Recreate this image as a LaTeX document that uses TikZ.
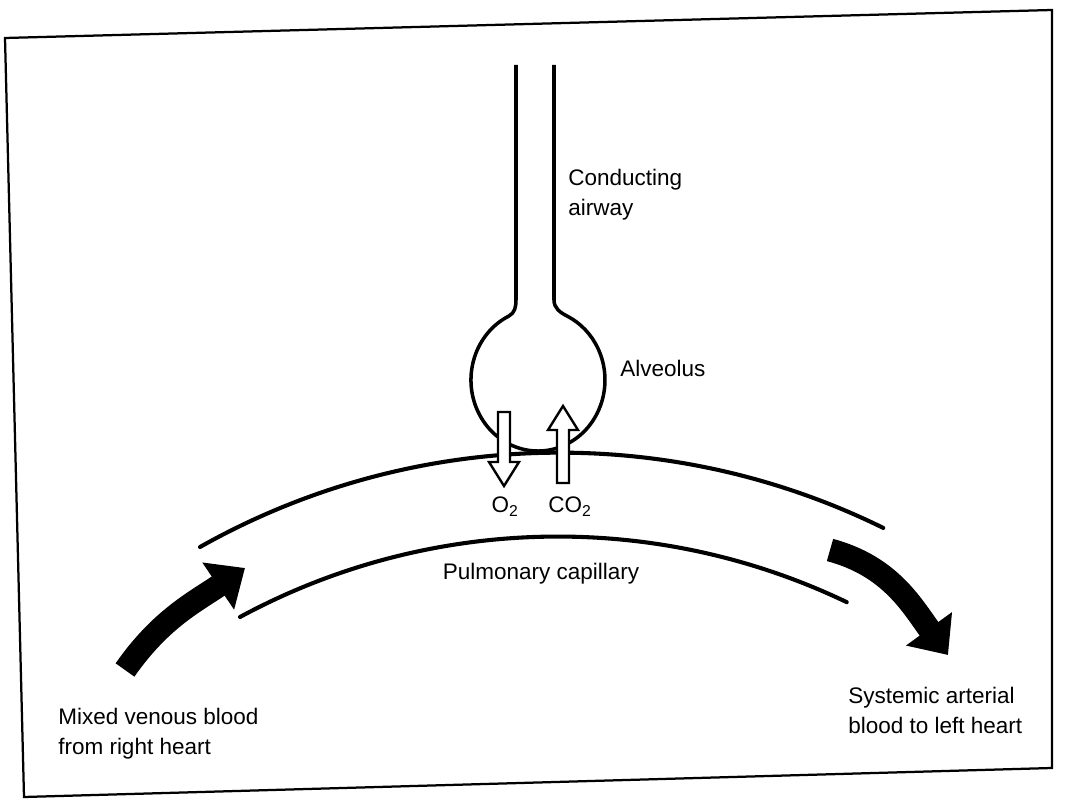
\documentclass[tikz,border=0pt]{standalone}
\usepackage{fontspec}
\setmainfont{Liberation Sans}
\usetikzlibrary{arrows.meta}
\tikzset{
  frm/.style={line width=1.6pt},
  tube/.style={line width=2.5pt},
  wall/.style={line width=2.9pt,line cap=round},
  flow/.style={line width=16.4pt,-{Triangle[length=23pt,width=39pt]}},
  gas/.style={draw=black,fill=white,line width=1.7pt},
  lbl/.style={inner sep=0pt,align=left,font=\fontsize{16}{21.3}\selectfont}
}
\newcommand{\gasarr}[4]{\draw[gas] (#1-6,#2) -- (#1-6,#3) -- (#1-15,#3) -- (#1,#4) -- (#1+15,#3) -- (#1+6,#3) -- (#1+6,#2) -- cycle;}

\begin{document}
\begin{tikzpicture}[x=0.025cm,y=0.025cm]
\useasboundingbox (0,0) rectangle (1068,803);
\draw[frm] (5,765) -- (1052,793) -- (1052,35) -- (24,6) -- cycle;
\draw[tube] (516,738) -- (516,503) to[out=-90,in=27] (508.6,486.8) arc[start angle=116,end angle=424,x radius=67,y radius=71] to[out=153,in=-90] (554,503) -- (554,738);
\draw[wall] (200,256) arc[start angle=119.4,end angle=63.8,radius=732.8];
\draw[wall] (240,186) arc[start angle=118.4,end angle=64.4,radius=668.5];
\gasarr{504}{391}{341}{317}
\gasarr{563}{320}{373}{397}
\coordinate (vtail) at (125,133); \coordinate (vtip) at (245,235);
\draw[flow] (vtail) to[out=55,in=214] (vtip);
\coordinate (atail) at (830,253); \coordinate (atip) at (948,148);
\draw[flow] (atail) to[out=-15,in=126] (atip);
\node[lbl,anchor=west] (airway) at (568,608.5) {Conducting\\airway};
\node[lbl,anchor=west] (alv) at (620,435) {Alveolus};
\node[lbl,anchor=base] (otwo) at (505,290) {O\textsubscript{2}};
\node[lbl,anchor=base] (cotwo) at (570,290) {CO\textsubscript{2}};
\node[lbl,anchor=base] (cap) at (541,223) {Pulmonary capillary};
\node[lbl,anchor=west] (venous) at (58,69) {Mixed venous blood\\from right heart};
\node[lbl,anchor=west] (arterial) at (848,93) {Systemic arterial\\blood to left heart};
\end{tikzpicture}
\end{document}
